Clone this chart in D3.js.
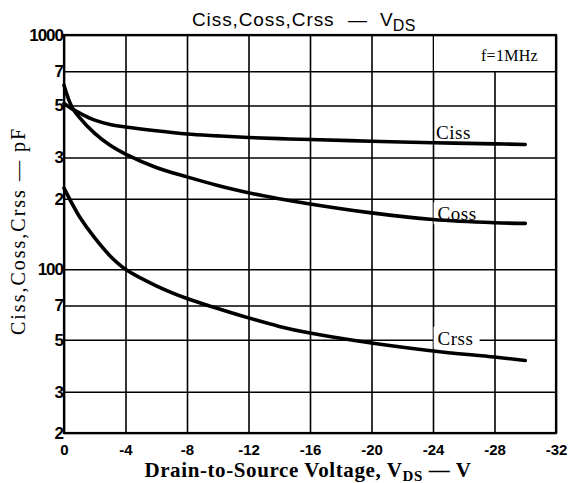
<!DOCTYPE html>
<html><head><meta charset="utf-8">
<script src="https://cdn.jsdelivr.net/npm/d3@7/dist/d3.min.js"></script>
<style>
body{margin:0;background:#fff;}
svg{display:block;}
</style></head>
<body>
<svg id="chart" width="580" height="483"></svg>
<script>
// ---- data ----
const voltage = [0, -0.5, -1, -2, -3, -4, -6, -8, -10, -12, -14, -16, -20, -24, -28, -30];
const ciss = [510, 485, 465, 433, 415, 405, 390, 378, 371, 365, 361, 358, 352, 347, 343, 341];
const coss = [610, 495, 445, 380, 338, 310, 272, 248, 228, 212, 200, 190, 174, 163, 158, 157];
const crss = [222, 192, 168, 136, 114, 100, 85, 75, 68, 62, 57, 53.4, 48.4, 44.8, 42.2, 40.8];
const seriesNames = ["Ciss", "Coss", "Crss"];
const xTicks = [0, -4, -8, -12, -16, -20, -24, -28, -32];
const xTickLabels = ["0", "-4", "-8", "-12", "-16", "-20", "-24", "-28", "-32"];
const yTicks = [1000, 700, 500, 300, 200, 100, 70, 50, 30, 20];
const yTickLabels = ["1000", "7", "5", "3", "2", "100", "7", "5", "3", "2"];

const svg = d3.select("#chart");
const L = 64, R = 556, T = 35, B = 433;
const x = d3.scaleLinear().domain([0, -32]).range([L, R]);
const y = d3.scaleLog().domain([20, 1000]).range([B, T]);
const serif = "'Liberation Serif', 'Times New Roman', serif";
const sans = "'Liberation Sans', Arial, sans-serif";

// grid via axes
svg.append("g").attr("transform", `translate(0,${B})`)
  .call(d3.axisBottom(x).tickValues(xTicks).tickSize(-(B - T)).tickFormat(""))
  .call(g => g.select(".domain").remove())
  .call(g => g.selectAll("line").attr("stroke", "#000").attr("stroke-width", 1.6));

// merged cell for the frequency note (no -28 line in top row)
svg.append("rect").attr("x", x(-24) + 1).attr("y", T).attr("width", R - x(-24) - 1)
  .attr("height", y(700) - T).attr("fill", "#fff");

svg.append("g").attr("transform", `translate(${L},0)`)
  .call(d3.axisLeft(y).tickValues(yTicks).tickSize(-(R - L)).tickFormat(""))
  .call(g => g.select(".domain").remove())
  .call(g => g.selectAll("line").attr("stroke", "#000").attr("stroke-width", 1.6));

// white backgrounds behind curve labels (drawn under curves)
const labelPos = [[-24.2, 360], [-24.3, 170], [-24.3, 50]];
seriesNames.forEach((n, i) => {
  if (i === 0) return;
  const px = x(labelPos[i][0]), py = y(labelPos[i][1]);
  svg.append("rect").attr("x", px - 4).attr("y", py - 13).attr("width", 46).attr("height", 22).attr("fill", "#fff");
});

// frame
svg.append("rect").attr("x", L).attr("y", T).attr("width", R - L).attr("height", B - T)
  .attr("fill", "none").attr("stroke", "#000").attr("stroke-width", 2.2);

// tick labels
svg.append("g").attr("transform", `translate(${L},0)`)
  .call(d3.axisLeft(y).tickValues(yTicks).tickSize(0).tickPadding(1)
    .tickFormat((d, i) => yTickLabels[i]))
  .call(g => g.select(".domain").remove())
  .call(g => g.selectAll("text").attr("font-family", sans).attr("font-weight", "bold")
    .attr("font-size", 17).attr("letter-spacing", "-1px").attr("fill", "#000"));
svg.append("g").attr("transform", `translate(0,${B})`)
  .call(d3.axisBottom(x).tickValues(xTicks).tickSize(0).tickPadding(11)
    .tickFormat((d, i) => xTickLabels[i]))
  .call(g => g.select(".domain").remove())
  .call(g => g.selectAll("text").attr("font-family", sans).attr("font-weight", "bold")
    .attr("font-size", 15).attr("fill", "#000"));

// curves
const line = d3.line().x(d => x(d[0])).y(d => y(d[1])).curve(d3.curveCatmullRom.alpha(0.5));
[ciss, coss, crss].forEach(s => {
  svg.append("path").datum(voltage.map((v, i) => [v, s[i]]))
    .attr("d", line).attr("fill", "none").attr("stroke", "#000")
    .attr("stroke-width", 3.6).attr("stroke-linecap", "round");
});

// curve labels
seriesNames.forEach((n, i) => {
  const px = x(labelPos[i][0]), py = y(labelPos[i][1]);
  svg.append("text").attr("x", px).attr("y", i === 0 ? py : py + 5).text(n)
    .attr("font-family", serif).attr("font-size", 19).attr("letter-spacing", "0.5px").attr("fill", "#000");
});

// f=1MHz
svg.append("text").attr("x", 538).attr("y", 61).attr("text-anchor", "end")
  .attr("font-family", serif).attr("font-size", 16).attr("letter-spacing", "0.3px").text("f=1MHz");

// title
svg.append("text").attr("x", 192).attr("y", 26).attr("font-family", sans).attr("font-size", 19)
  .attr("letter-spacing", "0.9px").text("Ciss,Coss,Crss");
svg.append("text").attr("x", 348).attr("y", 26).attr("font-family", sans).attr("font-size", 19).text("—");
const tv = svg.append("text").attr("x", 380).attr("y", 26).attr("font-family", sans).attr("font-size", 19);
tv.append("tspan").text("V");
tv.append("tspan").attr("font-size", 16).attr("dy", 5).attr("letter-spacing", "0.5px").text("DS");

// x-axis label
const xl = svg.append("text").attr("x", 308).attr("y", 477).attr("text-anchor", "middle")
  .attr("font-family", serif).attr("font-weight", "bold").attr("font-size", 21)
  .attr("letter-spacing", "0.6px").attr("fill", "#000");
xl.append("tspan").text("Drain-to-Source Voltage, V");
xl.append("tspan").attr("font-size", 15).attr("dy", 4).text("DS");
xl.append("tspan").attr("dy", -4).text(" — V");

// y-axis label
svg.append("text").attr("transform", "translate(25,231) rotate(-90)").attr("text-anchor", "middle")
  .attr("font-family", serif).attr("font-size", 20).attr("letter-spacing", "2px").attr("fill", "#000")
  .text("Ciss,Coss,Crss — pF");
</script>
</body></html>
